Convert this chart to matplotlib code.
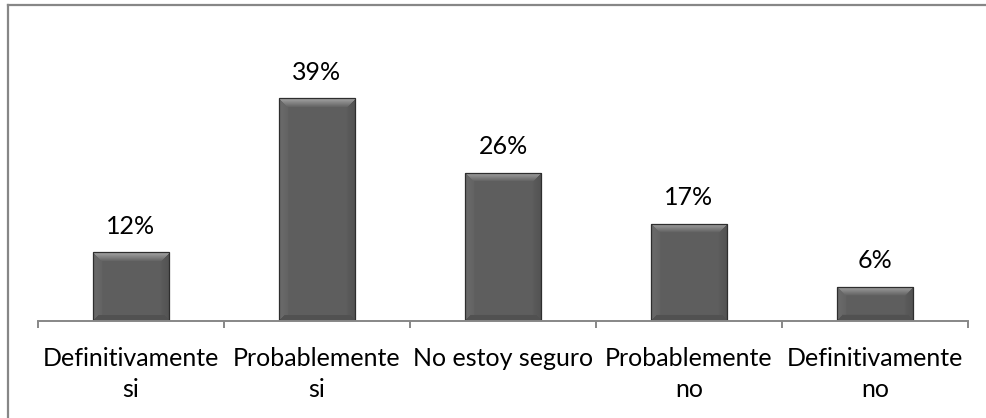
import numpy as np
import matplotlib
matplotlib.use("Agg")
import matplotlib.pyplot as plt
from matplotlib.patches import Rectangle

categories = ["Definitivamente\nsi", "Probablemente\nsi", "No estoy seguro",
              "Probablemente\nno", "Definitivamente\nno"]
values = [0.12, 0.39, 0.26, 0.17, 0.06]
labels = ["12%", "39%", "26%", "17%", "6%"]

plt.rcParams['font.family'] = ['Lato', 'DejaVu Sans']

W, H = 987, 418
fig = plt.figure(figsize=(W / 100, H / 100), dpi=100)
fig.patch.set_facecolor('white')

# outer chart border (left and top visible)
fig.add_artist(plt.Line2D([8.5 / W, 8.5 / W], [0, 1 - 5 / H], color='#878787', lw=1.6,
                          transform=fig.transFigure))
fig.add_artist(plt.Line2D([8.5 / W, 1.0], [1 - 5 / H, 1 - 5 / H], color='#878787', lw=1.6,
                          transform=fig.transFigure))

left, right = 38 / W, 968 / W
bottom = 1 - 321 / H
ax = fig.add_axes([left, bottom, right - left, 257 / H])
ax.set_xlim(-0.5, len(values) - 0.5)
ax.set_ylim(0, 0.45)

x = np.arange(len(values))
bars = ax.bar(x, values, width=0.41, color='#5c5c5c', edgecolor='none', linewidth=0,
              zorder=2)

# bevel shading via gradient image clipped to each bar
fig.canvas.draw()
for b in bars:
    x0, y0 = b.get_x(), b.get_y()
    w, h = b.get_width(), b.get_height()
    p0 = ax.transData.transform((x0, y0))
    p1 = ax.transData.transform((x0 + w, y0 + h))
    npx = max(int(round(p1[0] - p0[0])), 2)
    npy = max(int(round(p1[1] - p0[1])), 2)
    xs = np.arange(npx) + 0.5
    ys = np.arange(npy) + 0.5  # from top
    XX, YY = np.meshgrid(xs, ys)
    dl, dr = XX, npx - XX
    dt, db = YY, npy - YY
    bev = 9.0
    img = np.full((npy, npx), 0.37)
    # left/right sides
    lmask = (dl < bev) & (dl <= dt)
    img = np.where(lmask, 0.39 + 0.03 * (1 - dl / bev), img)
    rmask = (dr < bev) & (dr <= dt)
    img = np.where(rmask, 0.36 - 0.04 * (1 - dr / bev), img)
    # top bevel lighter
    topmask = (dt < bev) & (dt <= dl) & (dt <= dr)
    img = np.where(topmask, 0.66 - 0.27 * (dt / bev), img)
    # bottom bevel darker
    botmask = (db < 6) & (db <= dl) & (db <= dr)
    img = np.where(botmask, 0.32, img)
    rgb = np.dstack([img, img, img])
    im = ax.imshow(rgb, extent=(x0, x0 + w, y0, y0 + h), aspect='auto', zorder=3,
                   interpolation='bilinear')
    im.set_clip_path(b)
    ax.add_patch(Rectangle((x0, y0), w, h, fill=False, edgecolor='#2e2e2e', lw=0.9, zorder=4))

ax.set_xlim(-0.5, len(values) - 0.5)
ax.set_ylim(0, 0.45)

for xi, v, lab in zip(x, values, labels):
    ax.annotate(lab, (xi, v), xytext=(0, 13.5), textcoords='offset points',
                ha='center', va='baseline', fontsize=18, color='black')

for s in ['top', 'right', 'left']:
    ax.spines[s].set_visible(False)
ax.spines['bottom'].set_color('#878787')
ax.spines['bottom'].set_linewidth(1.4)
ax.spines['bottom'].set_zorder(5)
ax.set_yticks([])
ax.set_xticks(np.arange(len(values) + 1) - 0.5, minor=True)
ax.set_xticks(x)
ax.set_xticklabels(categories, fontsize=18, linespacing=1.42)
ax.tick_params(axis='x', which='major', length=0, pad=19)
ax.tick_params(axis='x', which='minor', length=5, width=1.4, color='#878787')
ax.set_facecolor('none')

fig.savefig('out.png', dpi=100, facecolor='white')
